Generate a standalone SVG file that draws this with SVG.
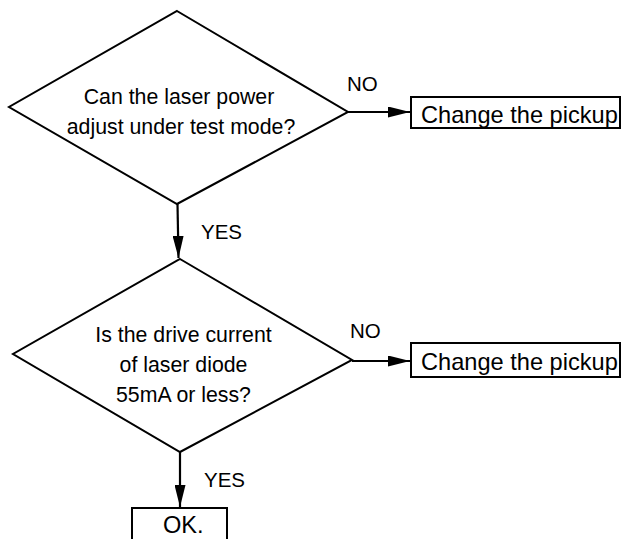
<svg xmlns="http://www.w3.org/2000/svg" width="624" height="539" viewBox="0 0 624 539">
<style>
.shape{fill:#fff;stroke:#000;stroke-width:2}
.conn{stroke:#000;stroke-width:2.2;fill:none}
text{font-family:"Liberation Sans",Arial,sans-serif;fill:#000}
.q{font-size:21.3px;text-anchor:middle}
.lbl{font-size:20.5px}
.box{font-size:23.6px}
</style>
<defs>
<marker id="ah" viewBox="0 0 22 11" refX="22" refY="5.5" markerWidth="22" markerHeight="11" markerUnits="userSpaceOnUse" orient="auto">
<path d="M0,0 L22,5.5 L0,11 Z" fill="#000"/>
</marker>
</defs>
<rect width="624" height="539" fill="#fff"/>
<g id="connectors">
<line class="conn" x1="348" y1="112" x2="410" y2="112" marker-end="url(#ah)"/>
<line class="conn" x1="177.5" y1="204" x2="178.5" y2="258" marker-end="url(#ah)"/>
<line class="conn" x1="352" y1="361" x2="410" y2="361" marker-end="url(#ah)"/>
<line class="conn" x1="180" y1="452" x2="180" y2="507" marker-end="url(#ah)"/>
<text class="lbl" x="347" y="91">NO</text>
<text class="lbl" x="201" y="239">YES</text>
<text class="lbl" x="350" y="338">NO</text>
<text class="lbl" x="204" y="487">YES</text>
</g>
<g id="q1">
<polygon class="shape" points="177,11 348,112 177,204 9,107"/>
<text class="q" x="179" y="104">Can the laser power</text>
<text class="q" x="181" y="134">adjust under test mode?</text>
</g>
<g id="pickup1">
<rect class="shape" x="411" y="97" width="209" height="31"/>
<text class="box" x="421" y="123">Change the pickup</text>
</g>
<g id="q2">
<polygon class="shape" points="180,259 352,360 180,452 13,354"/>
<text class="q" x="183.5" y="342">Is the drive current</text>
<text class="q" x="183.5" y="372">of laser diode</text>
<text class="q" x="183.5" y="402">55mA or less?</text>
</g>
<g id="pickup2">
<rect class="shape" x="411" y="343" width="209" height="34"/>
<text class="box" x="421" y="370">Change the pickup</text>
</g>
<g id="ok">
<rect class="shape" x="132" y="508" width="95" height="40"/>
<text class="box" x="163" y="533">OK.</text>
</g>
</svg>
